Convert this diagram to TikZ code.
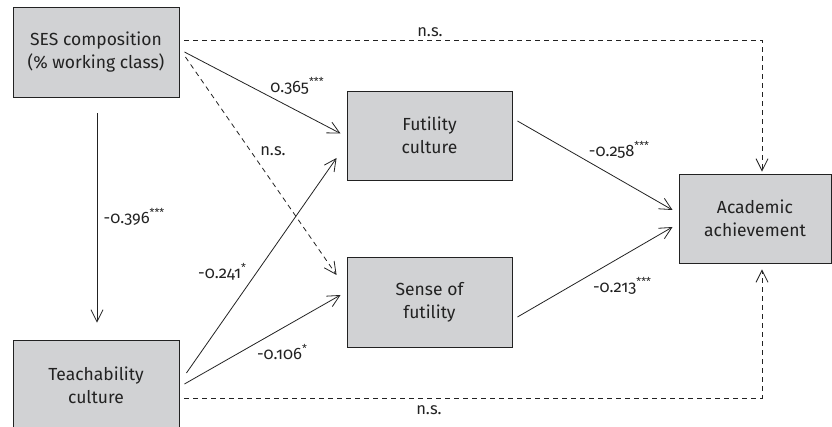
\documentclass[tikz,border=0pt]{standalone}
\usepackage{fontspec}
\setmainfont[Numbers=OldStyle]{Fira Sans}
\usetikzlibrary{arrows.meta,calc}
\definecolor{boxfill}{HTML}{D1D2D4}
\definecolor{ink}{HTML}{222222}
\newcommand{\stars}[1]{\raisebox{0.45em}{\fontsize{11}{11}\selectfont #1}}
\begin{document}
\begin{tikzpicture}[x=1pt,y=-1pt,
  box/.style={draw=ink,line width=0.9pt,fill=boxfill,align=center,text=ink,
    font=\fontsize{17.5}{23}\selectfont,inner sep=0pt},
  lab/.style={text=ink,font=\fontsize{16.5}{18}\selectfont,inner sep=0pt},
  arr/.style={draw=ink,line width=0.8pt,-{Straight Barb[length=12pt,width=12pt,line width=0.8pt]}},
  dsh/.style={arr,dash pattern=on 5pt off 4pt}]
\useasboundingbox (0,0) rectangle (832,427);
\begin{scope}
\clip (0,0) rectangle (832,427);
\node[box,minimum width=166pt,minimum height=90pt] (ses) at (96,52) {SES composition\\(\% working class)};
\node[box,minimum width=165pt,minimum height=89pt] (fut) at (429.5,135.5) {Futility\\culture};
\node[box,minimum width=152pt,minimum height=89pt] (acad) at (755,218.5) {Academic\\achievement};
\node[box,minimum width=165pt,minimum height=90pt] (sense) at (429.5,302) {Sense of\\futility};
\node[box,minimum width=166pt,minimum height=90pt] (teach) at (96,385) {Teachability\\culture};
\end{scope}
% solid arrows
\draw[arr] ($(ses.east)+(5,0)$) -- ($(fut.west)+(-6,-2)$);
\draw[arr] ($(ses.south)+(1,16)$) -- ($(teach.north)+(1,-17)$);
\draw[arr] ($(teach.east)+(7,-12)$) -- ($(fut.west)+(-10,22.5)$);
\draw[arr] ($(teach.east)+(5,-1)$) -- ($(sense.west)+(-6,-7)$);
\draw[arr] ($(fut.east)+(5,-14.5)$) -- ($(acad.west)+(-6,-8.5)$);
\draw[arr] ($(sense.east)+(5,15)$) -- ($(acad.west)+(-6,8.5)$);
% dashed arrows
\draw[dsh] ($(ses.east)+(6,5)$) -- ($(sense.west)+(-10,-27)$);
\coordinate (tc) at (762,40);
\coordinate (bc) at (762,398);
\draw[dsh] ($(ses.east)+(5,-12)$) -- (tc) -- ($(acad.north)+(7,-2)$);
\draw[dsh] ($(teach.east)+(5,13)$) -- (bc) -- ($(acad.south)+(7,6)$);
% labels
\node[lab] at (430,32) {n.s.};
\node[lab] at (429,410) {n.s.};
\node[lab] at (297,86) {0.365\stars{***}};
\node[lab] at (273,151) {n.s.};
\node[lab] at (134,217) {-0.396\stars{***}};
\node[lab] at (222,272) {-0.241\stars{*}};
\node[lab] at (282,352) {-0.106\stars{*}};
\node[lab] at (619,150) {-0.258\stars{***}};
\node[lab] at (622,286) {-0.213\stars{***}};
\end{tikzpicture}
\end{document}
